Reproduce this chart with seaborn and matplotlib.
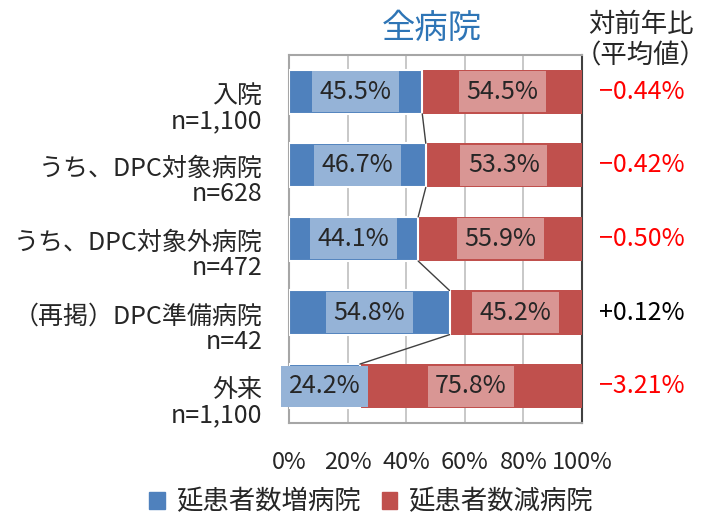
import numpy as np
import pandas as pd
import seaborn as sns
import matplotlib.pyplot as plt
from matplotlib.patches import Patch
from matplotlib.transforms import blended_transform_factory, ScaledTranslation

# data
groups = ['入院', 'うち、DPC対象病院', 'うち、DPC対象外病院', '（再掲）DPC準備病院', '外来']
counts = ['n=1,100', 'n=628', 'n=472', 'n=42', 'n=1,100']
increase = [45.5, 46.7, 44.1, 54.8, 24.2]
decrease = [54.5, 53.3, 55.9, 45.2, 75.8]
yoy = ['−0.44%', '−0.42%', '−0.50%', '+0.12%', '−3.21%']
series_names = ['延患者数増病院', '延患者数減病院']

blue = '#4F81BD'
red = '#C0504D'

sns.set_style('white')
plt.rcParams['font.family'] = ['Noto Sans CJK JP', 'DejaVu Sans']

labels = [g + '\n' + n for g, n in zip(groups, counts)]
df = pd.DataFrame({'label': labels, 'inc': increase, 'dec': decrease})
df['total'] = df['inc'] + df['dec']

fig = plt.figure(figsize=(7.06, 5.22), dpi=100)
ax = fig.add_axes([0.4093, 0.1897, 0.415, 0.705])

# red = full bar, blue drawn on top of it
sns.barplot(data=df, x='total', y='label', orient='h', color=red, saturation=1,
            width=0.6, ax=ax, zorder=3, linewidth=0)
sns.barplot(data=df, x='inc', y='label', orient='h', color=blue, saturation=1,
            width=0.6, ax=ax, zorder=4, edgecolor='white', linewidth=1.5)

ax.set_xlim(0, 100)
ax.set_ylim(len(groups) - 0.5, -0.5)
ax.set_xlabel('')
ax.set_ylabel('')
ax.set_xticks(np.arange(0, 101, 20))
ax.set_xticklabels([f'{v}%' for v in range(0, 101, 20)], fontsize=17)
ax.tick_params(axis='x', length=0, pad=20)
ax.tick_params(axis='y', which='major', length=0, pad=19, labelsize=18)
ax.set_yticks(np.arange(len(groups)) + 0.5, minor=True)
ax.tick_params(axis='y', which='minor', length=6, color='#A6A6A6', width=1.2)
shift = ScaledTranslation(0, -0.14, fig.dpi_scale_trans)
for lab in ax.get_yticklabels():
    lab.set_linespacing(0.95)
    lab.set_transform(lab.get_transform() + shift)

ax.grid(axis='x', color='#BFBFBF', lw=1.2)
ax.set_axisbelow(True)
for s in ['left', 'top', 'bottom']:
    ax.spines[s].set_color('#A6A6A6')
    ax.spines[s].set_linewidth(1.5)
ax.spines['right'].set_color('#404040')
ax.spines['right'].set_linewidth(1.5)

# series lines between bars
for i in range(len(groups) - 1):
    ax.plot([increase[i], increase[i + 1]], [i + 0.3, i + 0.7],
            color='#404040', lw=1, zorder=5)

# value labels
for i in range(len(groups)):
    ax.text(increase[i] / 2, i, f'{increase[i]:.1f}%', ha='center', va='center',
            fontsize=18, zorder=6,
            bbox=dict(boxstyle='square,pad=0.3', fc='#95B3D7', ec='none'))
    ax.text(increase[i] + decrease[i] / 2, i, f'{decrease[i]:.1f}%', ha='center',
            va='center', fontsize=18, zorder=6,
            bbox=dict(boxstyle='square,pad=0.3', fc='#D99694', ec='none'))

# year on year column
tr = blended_transform_factory(fig.transFigure, ax.transData)
for i, v in enumerate(yoy):
    ax.text(642 / 706, i, v, transform=tr, ha='center', va='center', fontsize=18,
            color='black' if v.startswith('+') else '#FF0000')
fig.text(641 / 706, 1 - 24 / 522, '対前年比', ha='center', va='center', fontsize=19)
fig.text(641 / 706, 1 - 56 / 522, '（平均値）', ha='center', va='center', fontsize=19)

fig.text(432 / 706, 1 - 28 / 522, '全病院', ha='center', va='center', fontsize=24,
         color='#2E75B6')

handles = [Patch(color=blue), Patch(color=red)]
fig.legend(handles, series_names, loc='center', bbox_to_anchor=(371 / 706, 1 - 502 / 522),
           ncol=2, frameon=False, fontsize=19, handlelength=0.6, handleheight=0.6,
           handletextpad=0.4, columnspacing=0.8)

fig.savefig('out.png', dpi=100)
